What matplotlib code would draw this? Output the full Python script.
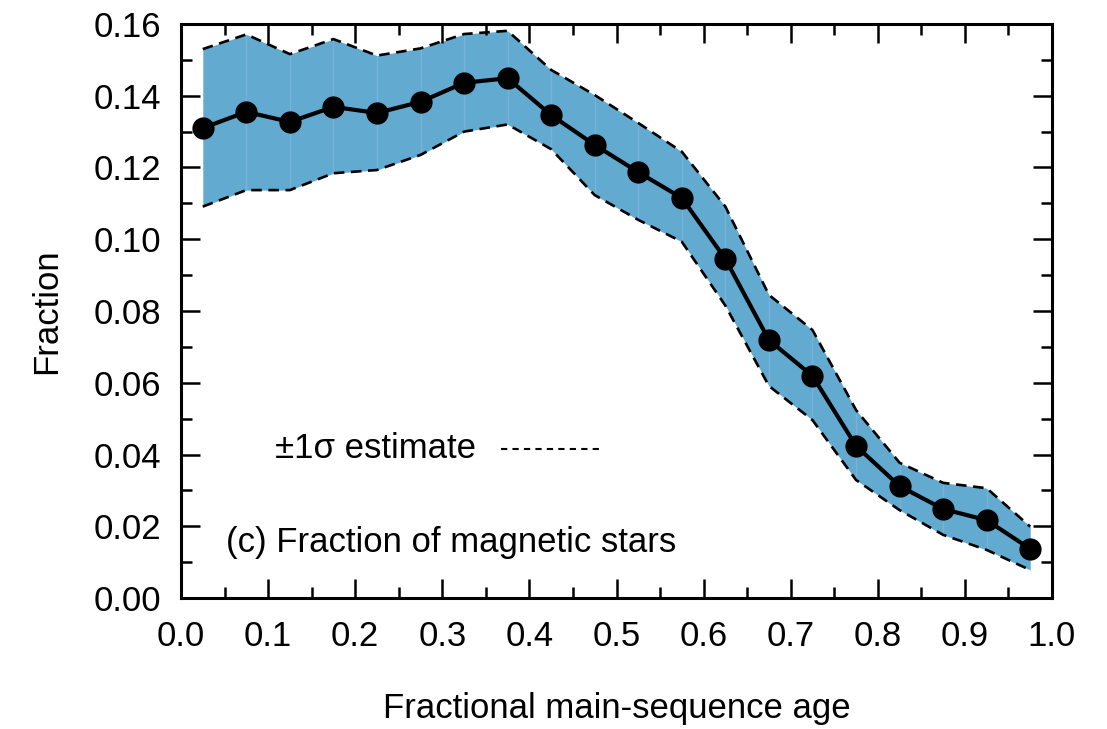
import numpy as np
import matplotlib
matplotlib.use("Agg")
import matplotlib.pyplot as plt
from matplotlib.ticker import MultipleLocator

plt.rcParams['font.family'] = ['Liberation Sans', 'DejaVu Sans']

# bin centres (fractional main-sequence age)
age = [0.025, 0.075, 0.125, 0.175, 0.225, 0.275, 0.325, 0.375, 0.425, 0.475,
       0.525, 0.575, 0.625, 0.675, 0.725, 0.775, 0.825, 0.875, 0.925, 0.975]
frac = [0.1310, 0.1355, 0.1327, 0.1369, 0.1352, 0.1383, 0.1436, 0.1449, 0.1346, 0.1263,
        0.1187, 0.1115, 0.0945, 0.0719, 0.0619, 0.0424, 0.0312, 0.0248, 0.0217, 0.0137]
upper = [0.1530, 0.1571, 0.1516, 0.1558, 0.1512, 0.1532, 0.1572, 0.1581, 0.1472, 0.1402,
         0.1324, 0.1244, 0.1091, 0.0845, 0.0747, 0.0524, 0.0377, 0.0321, 0.0306, 0.0199]
lower = [0.1091, 0.1137, 0.1137, 0.1184, 0.1193, 0.1235, 0.1300, 0.1320, 0.1251, 0.1123,
         0.1054, 0.0993, 0.0815, 0.0591, 0.0496, 0.0329, 0.0245, 0.0176, 0.0134, 0.0078]

fig = plt.figure(figsize=(11.07, 7.29), dpi=100)
ax = fig.add_axes([181/1107, 1-598/729, (1052-181)/1107, (598-24)/729])

blue = '#63aad0'
fs = 25
ax.fill_between(age, lower, upper, color=blue, lw=0, zorder=1)
# faint seams inside the band at each bin
ax.vlines(age[1:-1], lower[1:-1], upper[1:-1], color='white', alpha=0.12, lw=1, zorder=1.5)
ax.plot(age, upper, color='k', ls=(0, (4, 2.5)), lw=1.9, zorder=2)
ax.plot(age, lower, color='k', ls=(0, (4, 2.5)), lw=1.9, zorder=2)
ax.plot(age, frac, color='k', lw=3, marker='o', ms=15, zorder=3)

ax.set_xlim(0, 1.0)
ax.set_ylim(0, 0.16)
ax.xaxis.set_major_locator(MultipleLocator(0.1))
ax.xaxis.set_minor_locator(MultipleLocator(0.05))
ax.yaxis.set_major_locator(MultipleLocator(0.02))
ax.yaxis.set_minor_locator(MultipleLocator(0.01))
ax.xaxis.set_major_formatter(plt.FuncFormatter(lambda v, p: '%.1f' % v))
ax.yaxis.set_major_formatter(plt.FuncFormatter(lambda v, p: '%.2f' % v))
ax.tick_params(which='both', direction='in', top=True, right=True, width=1.8, labelsize=fs)
ax.tick_params(which='major', length=14)
ax.tick_params(which='minor', length=8)
ax.tick_params(axis='x', which='major', pad=16)
ax.tick_params(axis='y', which='major', pad=14)
for s in ax.spines.values():
    s.set_linewidth(2.2)

ax.set_xlabel('Fractional main-sequence age', fontsize=fs, labelpad=28)
ax.set_ylabel('Fraction', fontsize=fs, labelpad=22)

# legend-like annotation
ax.text(0.108, 0.0416, '\u00b11\u03c3 estimate', fontsize=fs, va='center', ha='left')
ax.plot([0.367, 0.48], [0.0416, 0.0416], color='k', ls=(0, (3, 2.5)), lw=1.5)
ax.text(0.052, 0.0155, '(c) Fraction of magnetic stars', fontsize=fs, va='center', ha='left')

fig.savefig('out.png', dpi=100)
